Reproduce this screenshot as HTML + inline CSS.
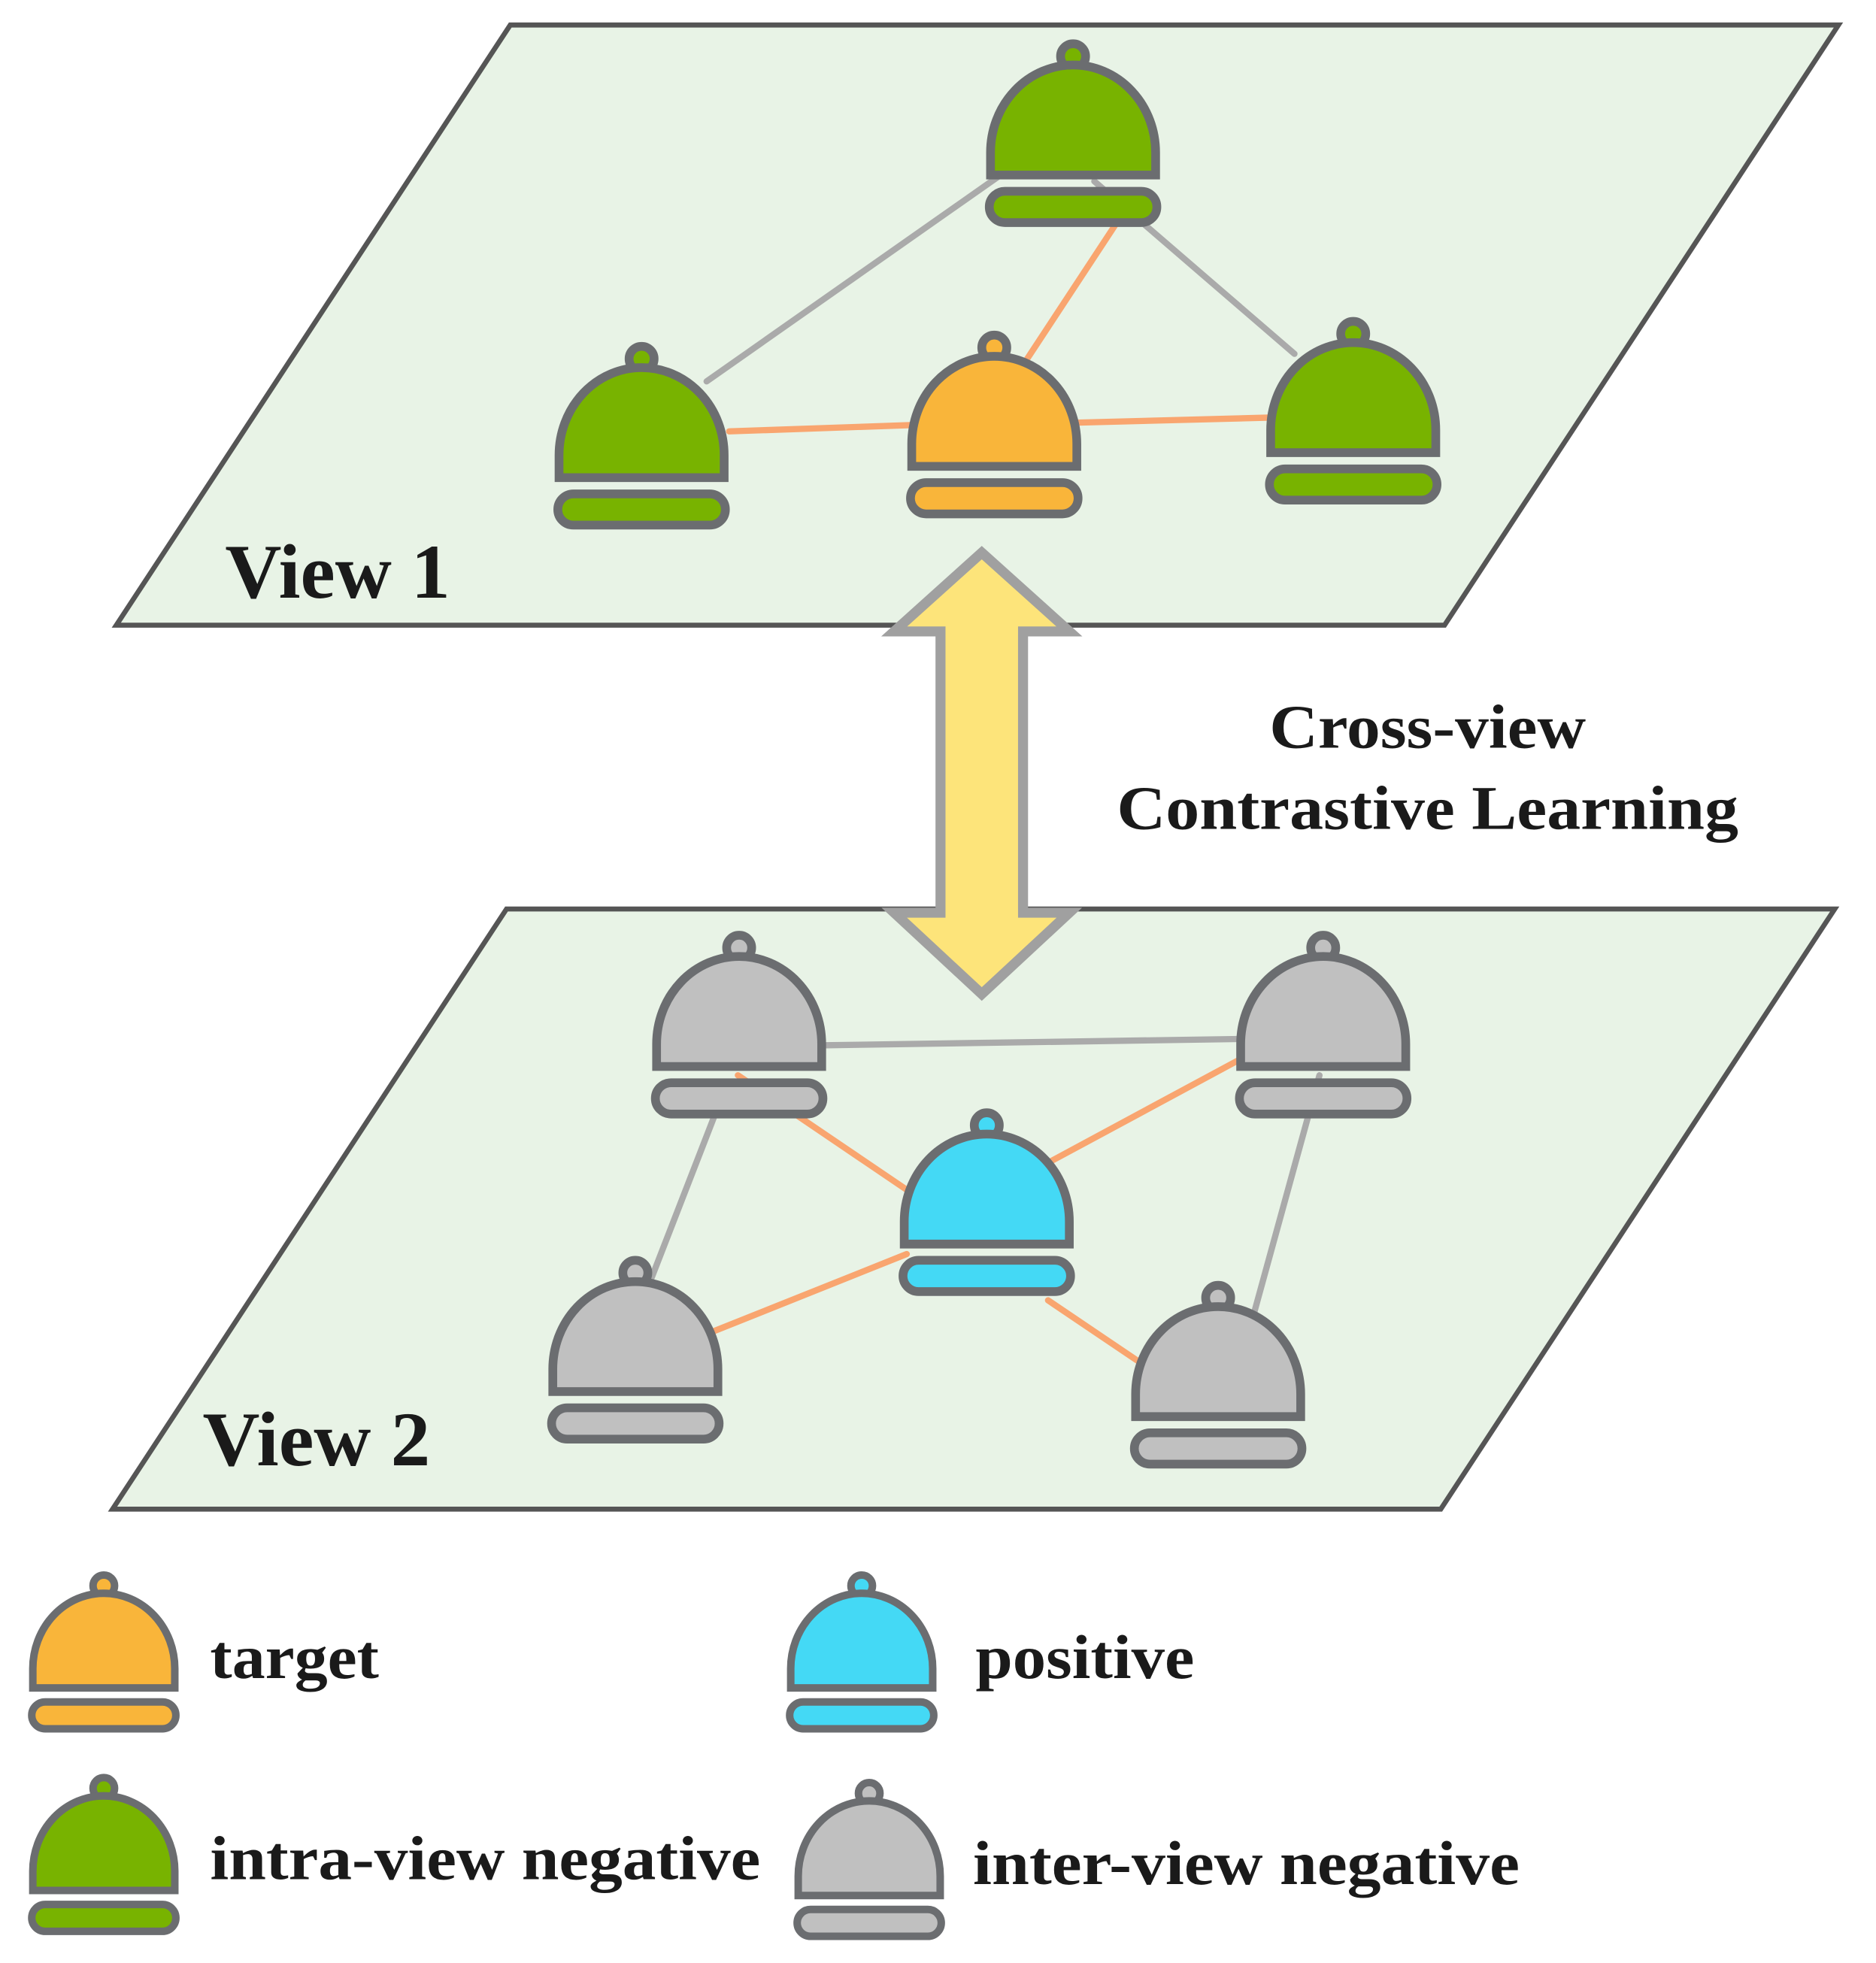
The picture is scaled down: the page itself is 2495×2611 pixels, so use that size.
<!DOCTYPE html>
<html><head><style>html,body{margin:0;padding:0;background:#fff}svg{display:block}</style></head><body>
<svg width="2495" height="2611" viewBox="0 0 1500 1570" preserveAspectRatio="none" xmlns="http://www.w3.org/2000/svg">
<defs>
<g id="b">
<circle cx="0" cy="-95" r="10"/>
<path d="M-66,0 L-66,-18 A66,70 0 0 1 66,-18 L66,0 Z"/>
<rect x="-67" y="13" width="134" height="25" rx="12.5"/>
</g>
</defs>
<g stroke="#555" stroke-width="4" fill="#e8f3e6">
<polygon points="408,20 1470,20 1155,500 93,500"/>
<polygon points="405,727 1467,727 1152,1207 90,1207"/>
</g>
<g stroke-width="5" stroke-linecap="round">
<line x1="800" y1="140" x2="565" y2="305" stroke="#aaa"/>
<line x1="875" y1="145" x2="1035" y2="283" stroke="#aaa"/>
<line x1="893" y1="178" x2="818" y2="292" stroke="#f9a56f"/>
<line x1="583" y1="345" x2="728" y2="340" stroke="#f9a56f"/>
<line x1="862" y1="338" x2="1015" y2="334" stroke="#f9a56f"/>
<line x1="660" y1="836" x2="990" y2="831" stroke="#aaa"/>
<line x1="590" y1="860" x2="730" y2="955" stroke="#f9a56f"/>
<line x1="838" y1="930" x2="1005" y2="840" stroke="#f9a56f"/>
<line x1="573" y1="888" x2="521" y2="1022" stroke="#aaa"/>
<line x1="1055" y1="860" x2="1000" y2="1060" stroke="#aaa"/>
<line x1="570" y1="1065" x2="725" y2="1003" stroke="#f9a56f"/>
<line x1="838" y1="1040" x2="912" y2="1090" stroke="#f9a56f"/>
</g>
<g stroke="#6b6d70" stroke-width="7">
<use href="#b" x="858" y="140" fill="#78b300"/>
<use href="#b" x="513" y="382" fill="#78b300"/>
<use href="#b" x="795" y="373" fill="#f9b53a"/>
<use href="#b" x="1082" y="362" fill="#78b300"/>
<use href="#b" x="591" y="853" fill="#c0c0c0"/>
<use href="#b" x="1058" y="853" fill="#c0c0c0"/>
<use href="#b" x="789" y="995" fill="#44d9f5"/>
<use href="#b" x="508" y="1113" fill="#c0c0c0"/>
<use href="#b" x="974" y="1133" fill="#c0c0c0"/>
<use href="#b" transform="translate(83,1350) scale(0.86)" fill="#f9b53a"/>
<use href="#b" transform="translate(689,1350) scale(0.86)" fill="#44d9f5"/>
<use href="#b" transform="translate(83,1512) scale(0.86)" fill="#78b300"/>
<use href="#b" transform="translate(695,1516) scale(0.86)" fill="#c0c0c0"/>
</g>
<polygon points="785,442 855,505 818,505 818,730 855,730 785,795 715,730 752,730 752,505 715,505" fill="#fde47a" stroke="#a0a0a0" stroke-width="8" stroke-linejoin="miter"/>
<g font-family="Liberation Serif, serif" font-weight="bold" fill="#1a1a1a" lengthAdjust="spacingAndGlyphs">
<text x="180" y="478" font-size="62" textLength="180" lengthAdjust="spacingAndGlyphs">View 1</text>
<text x="162" y="1172" font-size="62" textLength="182" lengthAdjust="spacingAndGlyphs">View 2</text>
<text x="1015" y="598" font-size="50" textLength="253" lengthAdjust="spacingAndGlyphs">Cross-view</text>
<text x="893" y="663" font-size="50" textLength="497" lengthAdjust="spacingAndGlyphs">Contrastive Learning</text>
<text x="168" y="1342" font-size="50" textLength="135" lengthAdjust="spacingAndGlyphs">target</text>
<text x="780" y="1342" font-size="50" textLength="175" lengthAdjust="spacingAndGlyphs">positive</text>
<text x="168" y="1503" font-size="50" textLength="440" lengthAdjust="spacingAndGlyphs">intra-view negative</text>
<text x="778" y="1507" font-size="50" textLength="437" lengthAdjust="spacingAndGlyphs">inter-view negative</text>
</g>
</svg>
</body></html>
